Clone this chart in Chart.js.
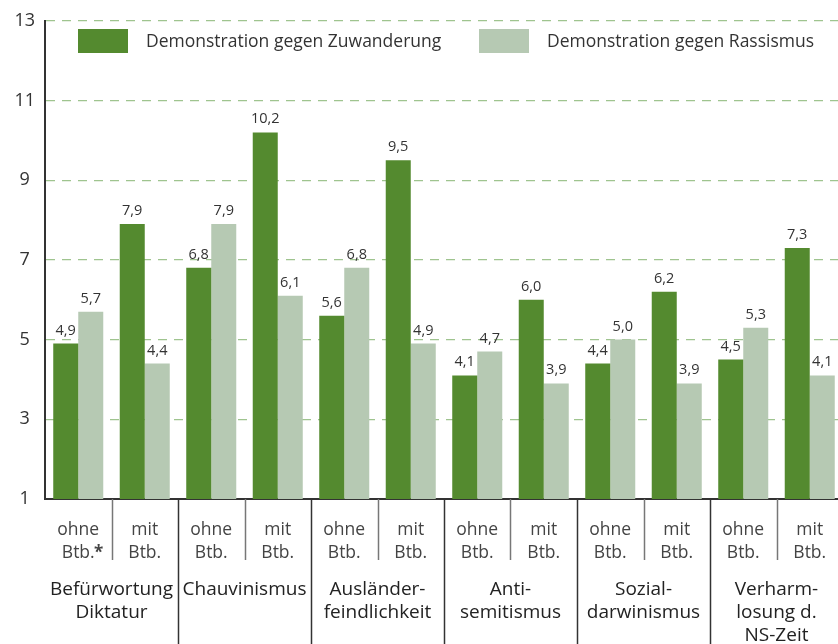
<!DOCTYPE html>
<html lang="de">
<head>
    <meta charset="UTF-8">
    <title>Demonstration gegen Zuwanderung / Rassismus</title>
    <script src="https://cdn.jsdelivr.net/npm/chart.js@4"></script>
    <style>
        html, body {
            margin: 0;
            padding: 0;
            background: #fff;
            overflow: hidden;
        }
        .chart-box {
            width: 843px;
            height: 644px;
        }
    </style>
</head>
<body>
    <div class="chart-box">
        <canvas id="demoChart" width="843" height="644"></canvas>
    </div>

    <script>
        // data
        const subLabels = ['ohne', 'mit', 'ohne', 'mit', 'ohne', 'mit', 'ohne', 'mit', 'ohne', 'mit', 'ohne', 'mit'];
        const groupLabels = [
            ['Befürwortung', 'Diktatur'],
            ['Chauvinismus'],
            ['Ausländer-', 'feindlichkeit'],
            ['Anti-', 'semitismus'],
            ['Sozial-', 'darwinismus'],
            ['Verharm-', 'losung d.', 'NS-Zeit']
        ];
        const seriesNames = ['Demonstration gegen Zuwanderung', 'Demonstration gegen Rassismus'];
        const zuwanderung = [4.9, 7.9, 6.8, 10.2, 5.6, 9.5, 4.1, 6.0, 4.4, 6.2, 4.5, 7.3];
        const rassismus = [5.7, 4.4, 7.9, 6.1, 6.8, 4.9, 4.7, 3.9, 5.0, 3.9, 5.3, 4.1];
        const yTicks = [1, 3, 5, 7, 9, 11, 13];

        const darkGreen = '#548a2f';
        const lightGreen = '#b6c9b3';
        const fontFamily = '"Open Sans", "Noto Sans", sans-serif';

        // value labels above each bar
        const valueLabels = {
            id: 'valueLabels',
            afterDatasetsDraw(chart) {
                const ctx = chart.ctx;
                ctx.save();
                ctx.font = '14.5px ' + fontFamily;
                ctx.fillStyle = '#333';
                ctx.textAlign = 'center';
                ctx.textBaseline = 'alphabetic';
                chart.data.datasets.forEach((ds, di) => {
                    chart.getDatasetMeta(di).data.forEach((bar, i) => {
                        const txt = ds.data[i].toFixed(1).replace('.', ',');
                        ctx.fillText(txt, bar.x, bar.y - 9);
                    });
                });
                ctx.restore();
            }
        };

        // legend inside the plot
        const innerLegend = {
            id: 'innerLegend',
            afterDraw(chart) {
                const ctx = chart.ctx;
                ctx.save();
                ctx.font = '17.5px ' + fontFamily;
                ctx.textBaseline = 'middle';
                ctx.textAlign = 'left';
                const items = [
                    { x: 78, color: darkGreen, text: seriesNames[0] },
                    { x: 479, color: lightGreen, text: seriesNames[1] }
                ];
                items.forEach(it => {
                    ctx.fillStyle = it.color;
                    ctx.fillRect(it.x, 29, 50, 24);
                    ctx.fillStyle = '#333';
                    ctx.fillText(it.text, it.x + 68, 42);
                });
                ctx.restore();
            }
        };

        // two-level category axis with separators
        const groupAxis = {
            id: 'groupAxis',
            afterDraw(chart) {
                const ctx = chart.ctx;
                const xs = chart.scales.x;
                const area = chart.chartArea;
                const step = xs.getPixelForValue(1) - xs.getPixelForValue(0);
                ctx.save();
                ctx.textAlign = 'center';
                ctx.textBaseline = 'middle';

                subLabels.forEach((lab, i) => {
                    const cx = xs.getPixelForValue(i);
                    ctx.font = '17.5px ' + fontFamily;
                    ctx.fillStyle = '#444';
                    ctx.fillText(lab, cx, 530);
                    ctx.fillText('Btb.', cx, 553);
                    if (i === 0) {
                        const w = ctx.measureText('Btb.').width;
                        ctx.font = 'bold 17px ' + fontFamily;
                        ctx.fillText('*', cx + w / 2 + 4, 553);
                    }
                    const edge = Math.round(cx + step / 2) + 0.5;
                    if (i % 2 === 0) {
                        ctx.strokeStyle = '#777';
                        ctx.lineWidth = 1.5;
                        ctx.beginPath();
                        ctx.moveTo(edge, area.bottom);
                        ctx.lineTo(edge, 560);
                        ctx.stroke();
                    } else if (i < subLabels.length - 1) {
                        ctx.strokeStyle = '#333';
                        ctx.lineWidth = 1.5;
                        ctx.beginPath();
                        ctx.moveTo(edge, area.bottom);
                        ctx.lineTo(edge, 644);
                        ctx.stroke();
                    }
                });

                ctx.font = '19px ' + fontFamily;
                ctx.fillStyle = '#222';
                groupLabels.forEach((lines, g) => {
                    const cx = (xs.getPixelForValue(g * 2) + xs.getPixelForValue(g * 2 + 1)) / 2;
                    lines.forEach((line, k) => {
                        ctx.fillText(line, cx, 590 + k * 23);
                    });
                });
                ctx.restore();
            }
        };

        const ctx = document.getElementById('demoChart').getContext('2d');
        const demoChart = new Chart(ctx, {
            type: 'bar',
            data: {
                labels: subLabels,
                datasets: [
                    {
                        label: seriesNames[0],
                        data: zuwanderung,
                        backgroundColor: darkGreen,
                        categoryPercentage: 0.752,
                        barPercentage: 1
                    },
                    {
                        label: seriesNames[1],
                        data: rassismus,
                        backgroundColor: lightGreen,
                        categoryPercentage: 0.752,
                        barPercentage: 1
                    }
                ]
            },
            options: {
                responsive: false,
                animation: false,
                layout: {
                    padding: { top: 10, right: 0, bottom: 145, left: 0 }
                },
                plugins: {
                    legend: { display: false },
                    tooltip: { enabled: false }
                },
                scales: {
                    x: {
                        ticks: { display: false },
                        grid: { display: false },
                        border: { display: true, color: '#333', width: 2 },
                        afterFit(scale) {
                            scale.height = 0;
                        }
                    },
                    y: {
                        min: 1,
                        max: 13,
                        afterBuildTicks(scale) {
                            scale.ticks = yTicks.map(v => ({ value: v }));
                        },
                        afterFit(scale) {
                            scale.width = 45;
                        },
                        ticks: {
                            color: '#333',
                            font: { size: 18, family: fontFamily },
                            crossAlign: 'center',
                            padding: 10
                        },
                        grid: {
                            color: ctx => ctx.tick && ctx.tick.value === 1 ? 'rgba(0,0,0,0)' : '#9fc48f',
                            lineWidth: 1.2,
                            drawTicks: false
                        },
                        border: { display: true, color: '#333', width: 2, dash: [9, 7], dashOffset: 0 }
                    }
                }
            },
            plugins: [valueLabels, innerLegend, groupAxis]
        });
    </script>
</body>
</html>
